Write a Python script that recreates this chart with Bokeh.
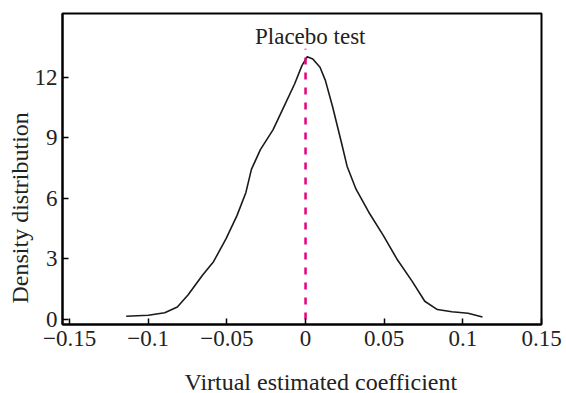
from bokeh.plotting import figure
from bokeh.models import Range1d, FixedTicker, Label, ColumnDataSource, Title
from bokeh.embed import file_html
from bokeh.resources import INLINE

# Density curve
coef = [-0.114, -0.0999, -0.0895, -0.0815, -0.0746, -0.0654, -0.0585, -0.0505,
        -0.0436, -0.0379, -0.0344, -0.0287, -0.0207, -0.0138, -0.0069, -0.0023,
        0.0011, 0.0046, 0.0092, 0.0126, 0.0172, 0.023, 0.0264, 0.0321, 0.0402,
        0.0494, 0.0585, 0.0677, 0.0758, 0.0838, 0.093, 0.1033, 0.1125]
density = [0.16, 0.21, 0.33, 0.62, 1.22, 2.2, 2.86, 4.0,
           5.14, 6.29, 7.43, 8.41, 9.39, 10.53, 11.67, 12.57,
           13.01, 12.9, 12.49, 11.84, 10.53, 8.7, 7.59, 6.45, 5.31,
           4.16, 2.94, 1.9, 0.9, 0.49, 0.38, 0.31, 0.12]

ref_x = [0.0, 0.0]
ref_y = [0.0, 13.4]

x_ticks = [-0.15, -0.1, -0.05, 0, 0.05, 0.1, 0.15]
x_tick_labels = ["\u22120.15", "\u22120.1", "\u22120.05", "0", "0.05", "0.1", "0.15"]
y_ticks = [0, 3, 6, 9, 12]

title_text = "Placebo test"
x_label = "Virtual estimated coefficient"
y_label = "Density distribution"

FONT = "Liberation Serif"
TXT = "#222222"

p = figure(width=566, height=393, output_backend="svg", toolbar_location=None,
           x_range=Range1d(-0.1545, 0.15), y_range=Range1d(-0.25, 15.15),
           min_border_left=62, min_border_right=25, min_border_top=13,
           min_border_bottom=67)

p.xgrid.visible = False
p.ygrid.visible = False
p.outline_line_color = "black"
p.outline_line_width = 2
p.background_fill_color = "white"
p.border_fill_color = "white"

for ax in (p.xaxis[0], p.yaxis[0]):
    ax.axis_line_color = "black"
    ax.axis_line_width = 2
    ax.major_tick_line_color = "black"
    ax.major_tick_line_width = 1.5
    ax.major_tick_in = 6
    ax.major_tick_out = 0
    ax.minor_tick_line_color = None
    ax.major_label_text_font = FONT
    ax.major_label_text_font_size = "23px"
    ax.major_label_text_color = TXT

p.xaxis[0].ticker = FixedTicker(ticks=x_ticks)
p.xaxis[0].major_label_overrides = {t: l for t, l in zip(x_ticks, x_tick_labels)}
p.xaxis[0].major_label_standoff = 6
# invisible spacer between tick labels and the axis title below
p.xaxis[0].axis_label = " "
p.xaxis[0].axis_label_text_font_size = "1px"
p.xaxis[0].axis_label_standoff = 15
p.yaxis[0].ticker = FixedTicker(ticks=y_ticks)
p.yaxis[0].major_label_standoff = 5

src = ColumnDataSource(dict(x=coef, y=density))
p.line("x", "y", source=src, line_color="#1a1a1a", line_width=1.6)
p.line(ref_x, ref_y, line_color="#E4007F", line_width=2.5, line_dash="7 8")

p.add_layout(Label(x=0.003, y=14.0, text=title_text, text_align="center",
                   text_baseline="middle", text_font=FONT, text_font_size="23px",
                   text_color=TXT))

p.add_layout(Title(text=x_label, align="left", offset=122, standoff=-2,
                   text_font=FONT, text_font_size="24px", text_font_style="normal",
                   text_color=TXT), "below")
p.add_layout(Title(text=y_label, align="left", offset=21, standoff=-2,
                   text_font=FONT, text_font_size="24px", text_font_style="normal",
                   text_color=TXT), "left")

open("out.html", "w").write(file_html(p, INLINE))
